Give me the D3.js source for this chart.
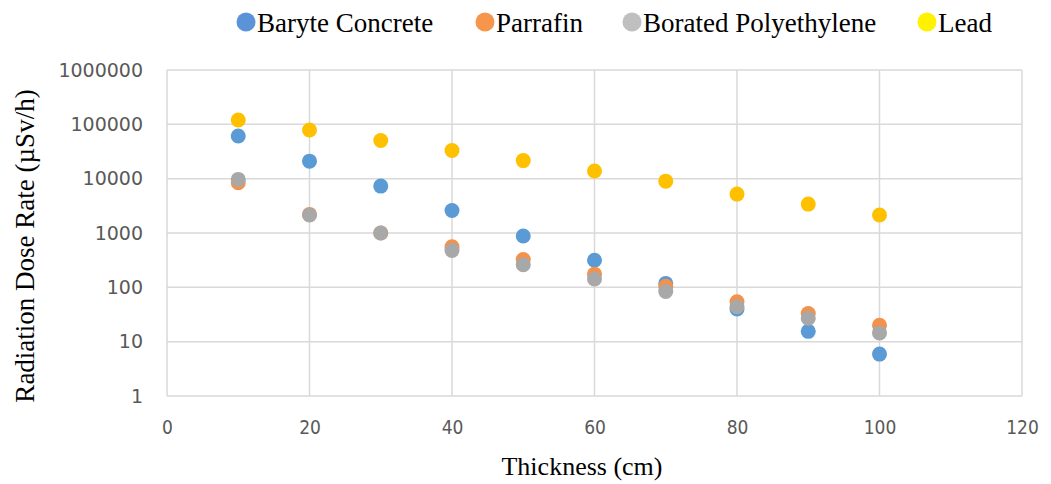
<!DOCTYPE html>
<html><head><meta charset="utf-8">
<script src="https://cdn.jsdelivr.net/npm/d3@7"></script>
<style>body{margin:0;background:#fff;}svg{display:block;}</style>
</head><body>
<svg id="chart" width="1051" height="484"></svg>
<script>
const thickness = [10, 20, 30, 40, 50, 60, 70, 80, 90, 100];
const baryte = [61000, 21000, 7300, 2600, 880, 316, 118, 40, 15.5, 5.9];
const parrafin = [8400, 2200, 1000, 560, 325, 175, 105, 54, 33, 20];
const borated = [9700, 2150, 1000, 475, 260, 142, 84, 44, 27, 14.5];
const lead = [120000, 78500, 50500, 33000, 21500, 13800, 9000, 5200, 3400, 2150];
const seriesNames = ["Baryte Concrete", "Parrafin", "Borated Polyethylene", "Lead"];
const xTicks = [0, 20, 40, 60, 80, 100, 120];
const yTicks = [1, 10, 100, 1000, 10000, 100000, 1000000];

const seriesData = [baryte, parrafin, borated, lead];
const pointColors = ["#5B9BD5", "#F4914A", "#A8A8A8", "#FFC000"];
const legendColors = ["#5B93D8", "#F7964A", "#BFBFBF", "#FFF200"];

const svg = d3.select("#chart");
const L = 167, R = 1022, T = 70, B = 396;
const x = d3.scaleLinear().domain([0, 120]).range([L, R]);
const y = d3.scaleLog().domain([1, 1000000]).range([B, T]);

const grid = svg.append("g");
grid.selectAll("line.h").data(yTicks).enter().append("line")
  .attr("x1", L).attr("x2", R).attr("y1", d => y(d)).attr("y2", d => y(d))
  .attr("stroke", "#D9D9D9").attr("stroke-width", 1.5);
grid.selectAll("line.v").data(xTicks).enter().append("line")
  .attr("x1", d => x(d)).attr("x2", d => x(d)).attr("y1", T).attr("y2", B)
  .attr("stroke", "#D9D9D9").attr("stroke-width", 1.5);

const yAxis = svg.append("g").attr("transform", `translate(${L},0)`)
  .call(d3.axisLeft(y).tickValues(yTicks).tickFormat(d3.format("d")).tickSize(0).tickPadding(24));
const xAxis = svg.append("g").attr("transform", `translate(0,${B})`)
  .call(d3.axisBottom(x).tickValues(xTicks).tickFormat(d3.format("d")).tickSize(0).tickPadding(25));
[yAxis, xAxis].forEach(a => a.select(".domain").remove());
yAxis.selectAll("text").attr("fill", "#595959").style("font-family", "'DejaVu Sans', sans-serif").style("font-size", "19px");
xAxis.selectAll("text").attr("fill", "#595959").style("font-family", "'DejaVu Sans Condensed', 'DejaVu Sans', sans-serif").style("font-size", "19px");

seriesData.forEach((vals, i) => {
  svg.append("g").selectAll("circle").data(vals).enter().append("circle")
    .attr("cx", (d, j) => x(thickness[j])).attr("cy", d => y(d)).attr("r", 7.5)
    .attr("fill", pointColors[i]);
});

svg.append("text").attr("x", 582).attr("y", 475).attr("text-anchor", "middle")
  .style("font-family", "'Liberation Serif', serif").style("font-size", "26px").attr("fill", "#000")
  .text("Thickness (cm)");
svg.append("text").attr("transform", `translate(34,246) rotate(-90)`).attr("text-anchor", "middle")
  .style("font-family", "'Liberation Serif', serif").style("font-size", "27px").attr("fill", "#000")
  .text("Radiation Dose Rate (µSv/h)");

const legendX = [246, 485, 632, 927];
const lg = svg.append("g");
seriesNames.forEach((n, i) => {
  lg.append("circle").attr("cx", legendX[i]).attr("cy", 22).attr("r", 9.5).attr("fill", legendColors[i]);
  lg.append("text").attr("x", legendX[i] + 11).attr("y", 32)
    .style("font-family", "'Liberation Serif', serif").style("font-size", "27px").attr("fill", "#000")
    .text(n);
});
</script>
</body></html>
